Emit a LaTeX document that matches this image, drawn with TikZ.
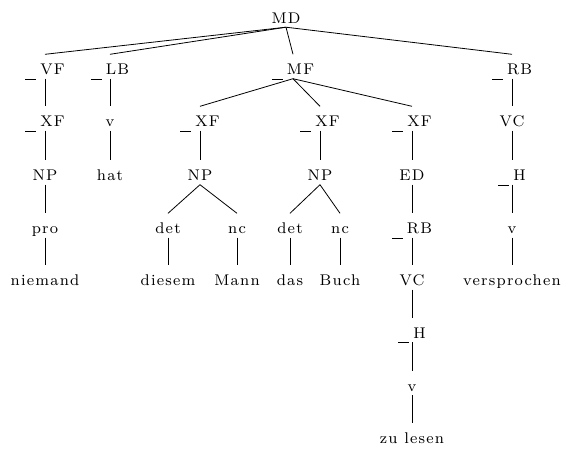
\documentclass[tikz,border=0pt]{standalone}
\usepackage{fontspec}
\setmainfont{lmroman8-regular}[Extension=.otf, LetterSpace=8]
\newcommand\us{\raisebox{-5pt}{\rule{11pt}{0.8pt}}\hspace{4pt}}
\tikzset{
  t/.style={anchor=base, inner sep=0pt, text height=20pt, text depth=4pt,
    font=\fontsize{15.5}{19}\selectfont},
  e/.style={draw, line width=0.8pt}
}
\begin{document}
\begin{tikzpicture}[x=1pt,y=-1pt]
\useasboundingbox (0,0) rectangle (564,448);
% level 0
\node[t] (md) at (286,23) {MD};
% level 1
\node[t] (vf) at (45,74.5) {\us VF};
\node[t] (lb) at (110,74.5) {\us LB};
\node[t] (mf) at (293,74.5) {\us MF};
\node[t] (rb) at (512,74.5) {\us RB};
% level 2
\node[t] (xf1) at (45,126.5) {\us XF};
\node[t] (v1) at (110,126.5) {v};
\node[t] (xf2) at (200,126.5) {\us XF};
\node[t] (xf3) at (320,126.5) {\us XF};
\node[t] (xf4) at (412,126.5) {\us XF};
\node[t] (vc1) at (512,126.5) {VC};
% level 3
\node[t] (np1) at (45,180.5) {NP};
\node[t] (hat) at (110,180.5) {hat};
\node[t] (np2) at (200,180.5) {NP};
\node[t] (np3) at (320,180.5) {NP};
\node[t] (ed) at (412,180.5) {ED};
\node[t] (h1) at (512,180.5) {\us H};
% level 4
\node[t] (pro) at (45,233.5) {pro};
\node[t] (det1) at (168,233.5) {det};
\node[t] (nc1) at (237,233.5) {nc};
\node[t] (det2) at (290,233.5) {det};
\node[t] (nc2) at (340,233.5) {nc};
\node[t] (rb2) at (412,233.5) {\us RB};
\node[t] (v2) at (512,233.5) {v};
% level 5
\node[t] (niemand) at (45,285.5) {niemand};
\node[t] (diesem) at (168,285.5) {diesem};
\node[t] (mann) at (237,285.5) {Mann};
\node[t] (das) at (290,285.5) {das};
\node[t] (buch) at (340,285.5) {Buch};
\node[t] (vc2) at (412,285.5) {VC};
\node[t] (verspr) at (512,285.5) {versprochen};
% levels 6-8
\node[t] (h2) at (412,338) {\us H};
\node[t] (v3) at (412,391) {v};
\node[t] (zu) at (412,443) {zu lesen};
% edges
\foreach \p/\c in {md/vf, md/lb, md/mf, md/rb,
  vf/xf1, lb/v1, mf/xf2, mf/xf3, mf/xf4, rb/vc1,
  xf1/np1, v1/hat, xf2/np2, xf3/np3, xf4/ed, vc1/h1,
  np1/pro, np2/det1, np2/nc1, np3/det2, np3/nc2, ed/rb2, h1/v2,
  pro/niemand, det1/diesem, nc1/mann, det2/das, nc2/buch, rb2/vc2, v2/verspr,
  vc2/h2, h2/v3, v3/zu}
  \path[e] (\p.south) -- (\c.north);
\end{tikzpicture}
\end{document}
